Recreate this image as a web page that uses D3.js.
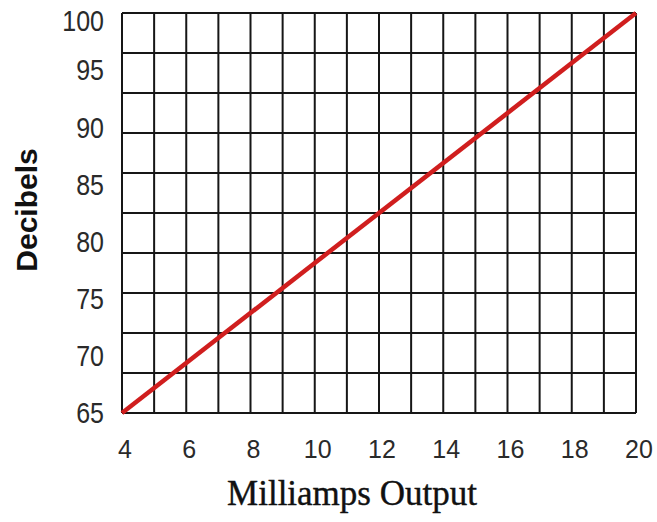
<!DOCTYPE html>
<meta charset="utf-8">
<style>
body { margin: 0; background: white; }
svg { display: block; background: white; }
.grid line { stroke: #161616; stroke-width: 2px; }
.ylab { font: 25px "Liberation Sans", Arial, sans-serif; fill: #2a2a2a; }
.xlab { font: 25px "Liberation Sans", Arial, sans-serif; fill: #2a2a2a; }
</style>
<body>
<script src="https://d3js.org/d3.v7.min.js"></script>
<script>

// data
var milliamps = [4, 20];
var decibels = [65, 100];
var xTickLabels = [4, 6, 8, 10, 12, 14, 16, 18, 20];
var yTickLabels = [65, 70, 75, 80, 85, 90, 95, 100];

const width = 657, height = 522;
const plot = {left: 122, right: 636, top: 13, bottom: 413};

var svg = d3.select("body").append("svg")
    .attr("width", width)
    .attr("height", height);

var x = d3.scaleLinear().domain([4, 20]).range([plot.left, plot.right]);
var y = d3.scaleLinear().domain([65, 100]).range([plot.bottom, plot.top]);

// grid: one column per mA, ten equal rows
var grid = svg.append("g").attr("class", "grid");
grid.selectAll(".v")
  .data(d3.range(4, 21))
  .enter().append("line")
    .attr("x1", d => x(d)).attr("x2", d => x(d))
    .attr("y1", plot.top).attr("y2", plot.bottom);
grid.selectAll(".h")
  .data(d3.range(0, 11))
  .enter().append("line")
    .attr("y1", d => y(65 + d * 3.5)).attr("y2", d => y(65 + d * 3.5))
    .attr("x1", plot.left).attr("x2", plot.right);

// tick labels (y ones are a bit taller in the original)
svg.selectAll(".ylab")
  .data(yTickLabels)
  .enter().append("text")
    .attr("class", "ylab")
    .attr("text-anchor", "end")
    .attr("dominant-baseline", "central")
    .attr("transform", d => "translate(104," + Math.max(y(d), 21) + ") scale(1,1.2)")
    .text(d => d);

svg.selectAll(".xlab")
  .data(xTickLabels)
  .enter().append("text")
    .attr("class", "xlab")
    .attr("x", d => x(d) + 3)
    .attr("y", 458)
    .attr("text-anchor", "middle")
    .text(d => d);

// the line
var pts = milliamps.map((m, i) => ({m: m, db: decibels[i]}));
svg.append("path")
  .datum(pts)
  .attr("fill", "none")
  .attr("stroke", "#d01e1e")
  .attr("stroke-width", 4.5)
  .attr("d", d3.line().x(d => x(d.m)).y(d => y(d.db)));

// axis titles
svg.append("text")
  .attr("x", 352).attr("y", 505)
  .attr("text-anchor", "middle")
  .style("font", "35px 'Liberation Serif', 'Times New Roman', serif")
  .style("fill", "#111")
  .style("stroke", "#111")
  .style("stroke-width", 0.4)
  .text("Milliamps Output");

svg.append("text")
  .attr("transform", "translate(37,210) rotate(-90)")
  .attr("text-anchor", "middle")
  .style("font", "bold 30px 'Liberation Sans', Arial, sans-serif")
  .style("fill", "#111")
  .text("Decibels");

</script>
</body>
